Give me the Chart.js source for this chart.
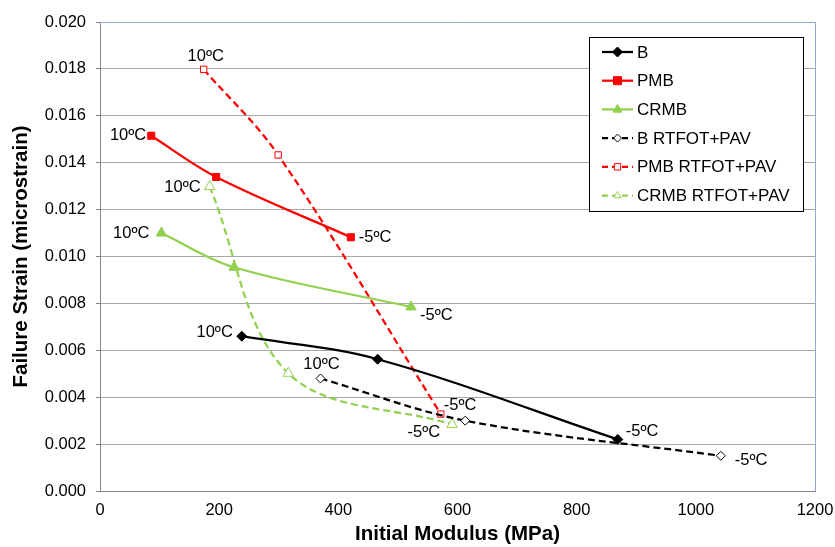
<!DOCTYPE html>
<html>
<head>
<meta charset="utf-8">
<script src="https://cdn.jsdelivr.net/npm/chart.js@4/dist/chart.umd.min.js"></script>
<style>
  html, body { margin: 0; padding: 0; background: #fff; }
  #wrap { width: 835px; height: 547px; position: relative; }
</style>
</head>
<body>
<div id="wrap"><canvas id="grafico"></canvas></div>
<script>
// dados
const series = ['B', 'PMB', 'CRMB', 'B RTFOT+PAV', 'PMB RTFOT+PAV', 'CRMB RTFOT+PAV'];
const modB = [238, 466, 869];
const strainB = [0.0066, 0.00562, 0.0022];
const modPMB = [86, 195, 421];
const strainPMB = [0.01515, 0.01339, 0.01082];
const modCRMB = [103, 225, 522];
const strainCRMB = [0.0110, 0.00954, 0.00785];
const modBR = [370, 613, 1042];
const strainBR = [0.0048, 0.0030, 0.0015];
const modPMBR = [174, 299, 572];
const strainPMBR = [0.01798, 0.01433, 0.00328];
const modCRMBR = [184, 316, 591];
const strainCRMBR = [0.01298, 0.00502, 0.00284];
const tempLabels = ['10ºC', '', '-5ºC'];
const xTicks = [0, 200, 400, 600, 800, 1000, 1200];
const yTicks = [0, 0.002, 0.004, 0.006, 0.008, 0.010, 0.012, 0.014, 0.016, 0.018, 0.020];

const verde = '#92D050';
const vermelho = '#FF0000';
const preto = '#000000';
const fonte = '"Liberation Sans", Arial, sans-serif';

function pontos(xs, ys) {
    return xs.map((x, i) => ({ x: x, y: ys[i] }));
}

// posicao dos rotulos de temperatura (deslocamento em px, alinhamento)
const posRotulos = [
    [[-9, -4, 'right'], null, [8, -8, 'left']],
    [[-5, 0, 'right'], null, [8, 0, 'left']],
    [[-12, 0, 'right'], null, [9, 9, 'left']],
    [[1, -14, 'center'], null, [14, 5, 'left']],
    [[2, -13, 'center'], null, [3, -9, 'left']],
    [[-9, 1, 'right'], null, [-12, 8, 'right']],
];

function criarDataset(nome, xs, ys, cor, estilo, tracejado, raio) {
    return {
        label: nome,
        data: pontos(xs, ys),
        borderColor: cor,
        backgroundColor: tracejado ? '#ffffff' : cor,
        pointBackgroundColor: tracejado ? '#ffffff' : cor,
        pointBorderColor: cor,
        pointBorderWidth: 1,
        pointStyle: estilo,
        pointRadius: raio,
        borderWidth: 2.25,
        borderDash: tracejado ? [7, 4] : [],
        tension: 0.35,
        showLine: true,
        fill: false,
    };
}

const datasets = [
    criarDataset(series[0], modB, strainB, preto, 'rectRot', false, 5),
    criarDataset(series[1], modPMB, strainPMB, vermelho, 'rect', false, 5),
    criarDataset(series[2], modCRMB, strainCRMB, verde, 'triangle', false, 6),
    criarDataset(series[3], modBR, strainBR, preto, 'rectRot', true, 4.5),
    criarDataset(series[4], modPMBR, strainPMBR, vermelho, 'rect', true, 4.5),
    criarDataset(series[5], modCRMBR, strainCRMBR, verde, 'triangle', true, 6),
];

function desenharMarcador(ctx, estilo, x, y, r, preenchido, cor) {
    ctx.save();
    ctx.beginPath();
    if (estilo === 'rectRot') {
        ctx.moveTo(x, y - r); ctx.lineTo(x + r, y); ctx.lineTo(x, y + r); ctx.lineTo(x - r, y);
    } else if (estilo === 'rect') {
        const s = r * 0.8;
        ctx.rect(x - s, y - s, 2 * s, 2 * s);
    } else {
        ctx.moveTo(x, y - r); ctx.lineTo(x + r * 0.9, y + r * 0.55); ctx.lineTo(x - r * 0.9, y + r * 0.55);
    }
    ctx.closePath();
    ctx.fillStyle = preenchido ? cor : '#ffffff';
    ctx.fill();
    ctx.lineWidth = 1;
    ctx.strokeStyle = cor;
    ctx.stroke();
    ctx.restore();
}

const pluginExtras = {
    id: 'extras',
    afterDatasetsDraw(chart) {
        const ctx = chart.ctx;
        ctx.save();
        ctx.font = '16.5px ' + fonte;
        ctx.fillStyle = '#000';
        ctx.textBaseline = 'middle';
        chart.data.datasets.forEach((ds, i) => {
            const meta = chart.getDatasetMeta(i);
            meta.data.forEach((pt, j) => {
                const p = posRotulos[i][j];
                if (!p || !tempLabels[j]) return;
                ctx.textAlign = p[2];
                ctx.fillText(tempLabels[j], pt.x + p[0], pt.y + p[1]);
            });
        });
        ctx.restore();
    },
    afterDraw(chart) {
        const ctx = chart.ctx;
        const a = chart.chartArea;
        ctx.save();
        // borda superior e direita da area do grafico
        ctx.strokeStyle = '#8FA9D6';
        ctx.lineWidth = 1;
        ctx.beginPath();
        ctx.moveTo(a.left, a.top + 0.5);
        ctx.lineTo(a.right + 0.5, a.top + 0.5);
        ctx.lineTo(a.right + 0.5, a.bottom);
        ctx.stroke();

        // legenda
        const lx = 589, ly = 37, lw = 214, lh = 174;
        ctx.fillStyle = '#fff';
        ctx.fillRect(lx, ly, lw, lh);
        ctx.strokeStyle = '#000';
        ctx.lineWidth = 1;
        ctx.strokeRect(lx + 0.5, ly + 0.5, lw, lh);
        ctx.font = '17px ' + fonte;
        ctx.textBaseline = 'middle';
        ctx.textAlign = 'left';
        chart.data.datasets.forEach((ds, i) => {
            const y = 52 + i * 28.7;
            ctx.save();
            ctx.strokeStyle = ds.borderColor;
            ctx.lineWidth = 2.25;
            ctx.setLineDash(ds.borderDash.length ? [6, 4] : []);
            ctx.beginPath();
            ctx.moveTo(602, y);
            ctx.lineTo(633, y);
            ctx.stroke();
            ctx.restore();
            const tracejado = ds.borderDash.length > 0;
            desenharMarcador(ctx, ds.pointStyle, 617.5, y, tracejado ? 4 : 5, !tracejado, ds.borderColor);
            ctx.fillStyle = '#000';
            ctx.fillText(ds.label, 637, y + 1);
        });
        ctx.restore();
    }
};

const contexto = document.getElementById('grafico').getContext('2d');
const grafico = new Chart(contexto, {
    type: 'scatter',
    data: { datasets: datasets },
    options: {
        responsive: true,
        maintainAspectRatio: false,
        animation: false,
        layout: { padding: { top: 22, right: 0, left: 0, bottom: 0 } },
        plugins: {
            legend: { display: false },
            tooltip: { enabled: false },
        },
        scales: {
            x: {
                type: 'linear',
                min: 0,
                max: 1200,
                afterBuildTicks: s => { s.ticks = xTicks.map(v => ({ value: v })); },
                afterFit: s => { s.height = 56; s.paddingRight = 20; s.paddingLeft = 0; },
                grid: { display: false, drawTicks: false },
                border: { color: '#868686', width: 1 },
                ticks: {
                    color: '#000',
                    padding: 10,
                    maxRotation: 0,
                    callback: v => String(v),
                    font: { family: fonte, size: 16.5 },
                },
                title: {
                    display: true,
                    text: 'Initial Modulus (MPa)',
                    color: '#000',
                    padding: { top: 0, bottom: 0 },
                    font: { family: fonte, size: 20.5, weight: 'bold' },
                },
            },
            y: {
                type: 'linear',
                min: 0,
                max: 0.02,
                afterBuildTicks: s => { s.ticks = yTicks.map(v => ({ value: v })); },
                afterFit: s => { s.width = 100; s.paddingTop = 0; s.paddingBottom = 0; },
                grid: { color: '#A6A6A6', lineWidth: 1, tickLength: 4, tickColor: '#868686' },
                border: { color: '#868686', width: 1 },
                ticks: {
                    color: '#000',
                    padding: 10,
                    callback: v => v.toFixed(3),
                    font: { family: fonte, size: 16.5 },
                },
                title: {
                    display: true,
                    text: 'Failure Strain (microstrain)',
                    color: '#000',
                    padding: { top: 9, bottom: 0 },
                    font: { family: fonte, size: 20.5, weight: 'bold' },
                },
            },
        },
    },
    plugins: [pluginExtras],
});
</script>
</body>
</html>
